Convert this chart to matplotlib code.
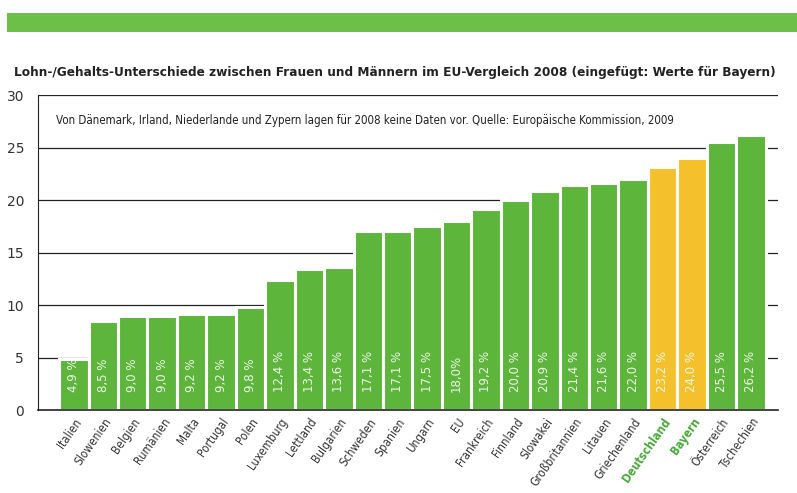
import matplotlib
matplotlib.use("Agg")
import matplotlib.pyplot as plt
from matplotlib.patches import Rectangle

categories = ["Italien", "Slowenien", "Belgien", "Rumänien", "Malta", "Portugal", "Polen",
              "Luxemburg", "Lettland", "Bulgarien", "Schweden", "Spanien", "Ungarn", "EU",
              "Frankreich", "Finnland", "Slowakei", "Großbritannien", "Litauen", "Griechenland",
              "Deutschland", "Bayern", "Österreich", "Tschechien"]
values = [4.9, 8.5, 9.0, 9.0, 9.2, 9.2, 9.8, 12.4, 13.4, 13.6, 17.1, 17.1, 17.5, 18.0,
          19.2, 20.0, 20.9, 21.4, 21.6, 22.0, 23.2, 24.0, 25.5, 26.2]
labels = ["4,9 %", "8,5 %", "9,0 %", "9,0 %", "9,2 %", "9,2 %", "9,8 %", "12,4 %", "13,4 %",
          "13,6 %", "17,1 %", "17,1 %", "17,5 %", "18,0%", "19,2 %", "20,0 %", "20,9 %",
          "21,4 %", "21,6 %", "22,0 %", "23,2 %", "24,0 %", "25,5 %", "26,2 %"]
highlight = ["Deutschland", "Bayern"]
yticks = [0, 5, 10, 15, 20, 25, 30]

GREEN = "#5db53c"
YELLOW = "#f4c12c"
TXTGREEN = "#4aa83a"

fig = plt.figure(figsize=(7.97, 4.93), dpi=100)
fig.patches.append(Rectangle((0.009, 0.935), 0.991, 0.039, transform=fig.transFigure,
                             facecolor="#6cc04a", edgecolor="none"))
fig.text(0.018, 0.853, "Lohn-/Gehalts-Unterschiede zwischen Frauen und Männern im EU-Vergleich 2008 (eingefügt: Werte für Bayern)",
         fontsize=9.7, fontweight="bold", fontstretch="condensed", color="#222222", va="center")

ax = fig.add_axes([0.0477, 0.168, 0.9283, 0.639])
x = list(range(len(categories)))
colors = [YELLOW if c in highlight else GREEN for c in categories]
ax.bar(x, values, width=1.0, color=colors, edgecolor="white", linewidth=2.2, zorder=2)
for xi, lab in zip(x, labels):
    ax.text(xi, 1.7, lab, rotation=90, ha="center", va="bottom", color="#eef7e8",
            fontsize=8.5, zorder=3)

for yv in yticks[1:]:
    ax.axhline(yv, color="#222222", linewidth=0.9, zorder=1)

ax.set_xlim(-1.22, 23.92)
ax.set_ylim(0, 30)
ax.set_yticks(yticks)
ax.set_yticklabels([str(v) for v in yticks], fontsize=10, color="#333333")
ax.tick_params(axis="y", length=0, pad=10)
ax.tick_params(axis="x", length=0, pad=4)
ax.set_xticks(x)
ax.set_xticklabels(categories, rotation=55, ha="right", rotation_mode="anchor", fontsize=8.5,
                   color="#333333", fontstretch="condensed")
for t in ax.get_xticklabels():
    if t.get_text() in highlight:
        t.set_color(TXTGREEN)
        t.set_fontweight("bold")
for s in ["top", "right"]:
    ax.spines[s].set_visible(False)
ax.spines["left"].set_color("#222222")
ax.spines["bottom"].set_color("#222222")
ax.spines["bottom"].set_linewidth(1.2)

ax.text(-0.62, 27.6, "Von Dänemark, Irland, Niederlande und Zypern lagen für 2008 keine Daten vor. Quelle: Europäische Kommission, 2009",
        fontsize=8.3, fontstretch="condensed", color="#222222", va="center", ha="left")

fig.savefig("out.png", dpi=100)
